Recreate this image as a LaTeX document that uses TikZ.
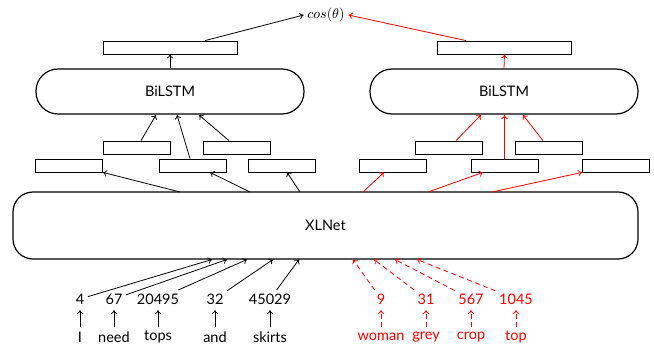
\documentclass[tikz,border=0pt]{standalone}
\usepackage{fontspec}
\setmainfont{Lato}
\usetikzlibrary{arrows.meta}
\begin{document}
\begin{tikzpicture}[x=1pt,y=-1pt,
  font=\fontsize{14.5}{17}\selectfont,
  vec/.style={draw, line width=0.8pt, minimum width=67pt, minimum height=13pt, inner sep=0pt},
  wide/.style={vec, minimum width=134pt},
  lstm/.style={draw, line width=1.2pt, rounded corners=22pt, minimum width=268pt, minimum height=45pt},
  arr/.style={-{To[length=4pt,width=6.5pt]}, line width=0.8pt},
  rarr/.style={arr, red},
  darr/.style={rarr, dash pattern=on 5pt off 3.5pt},
  num/.style={inner sep=3.5pt},
  rnum/.style={num, text=red}
]
\useasboundingbox (0,0) rectangle (654,350);

% top
\node[font=\normalsize, scale=1.4, inner sep=2.5pt] (cos) at (326,15) {$cos(\theta)$};
\node[wide] (tl) at (170,47.5) {};
\node[wide] (tr) at (504.5,47.5) {};

% BiLSTMs
\node[lstm] (bl) at (170,91.5) {BiLSTM};
\node[lstm] (br) at (504,91.5) {BiLSTM};

% row a
\node[vec] (la1) at (136.5,147.5) {};
\node[vec] (la2) at (236.5,147.5) {};
\node[vec] (ra1) at (448.5,147.5) {};
\node[vec] (ra2) at (549,147.5) {};
% row b
\node[vec] (lb1) at (69,165.5) {};
\node[vec] (lb2) at (192.5,165.5) {};
\node[vec] (lb3) at (281.5,165.5) {};
\node[vec] (rb1) at (393,165.5) {};
\node[vec] (rb2) at (504.5,165.5) {};
\node[vec] (rb3) at (616,165.5) {};

% XLNet
\node[draw, line width=1.2pt, rounded corners=20pt, minimum width=625pt, minimum height=67pt] (xl) at (325.5,225.5) {XLNet};

% coordinates on BiLSTM bottoms
\coordinate (bl1) at (156,115);
\coordinate (bl2) at (177,115);
\coordinate (bl3) at (199,115);
\coordinate (br1) at (481,115);
\coordinate (br2) at (504.5,115);
\coordinate (br3) at (523,115);
% coordinates on XLNet top
\coordinate (xt1) at (180,192);
\coordinate (xt2) at (250,192);
\coordinate (xt3) at (300,192);
\coordinate (xt4) at (363,192);
\coordinate (xt5) at (428,192);
\coordinate (xt6) at (492,192);
% coordinates on XLNet bottom
\coordinate (xb1) at (212,259.5);
\coordinate (xb2) at (227,259.5);
\coordinate (xb3) at (247,259.5);
\coordinate (xb4) at (273,259.5);
\coordinate (xb5) at (299,259.5);
\coordinate (xb6) at (353,259.5);
\coordinate (xb7) at (374,259.5);
\coordinate (xb8) at (395,259.5);
\coordinate (xb9) at (417,259.5);

% numbers
\node[num] (n1) at (80,299) {4};
\node[num] (n2) at (114,299) {67};
\node[num] (n3) at (158,299) {20495};
\node[num] (n4) at (215,299) {32};
\node[num] (n5) at (270,299) {45029};
\node[rnum] (n6) at (381,299) {9};
\node[rnum] (n7) at (426,299) {31};
\node[rnum] (n8) at (471,299) {567};
\node[rnum] (n9) at (516,299) {1045};
% words
\node[num] (w1) at (80,337) {I};
\node[num] (w2) at (114,337) {need};
\node[num] (w3) at (158,337) {tops};
\node[num] (w4) at (215,337) {and};
\node[num] (w5) at (270,337) {skirts};
\node[rnum] (w6) at (381,337) {woman};
\node[rnum] (w7) at (426,337) {grey};
\node[rnum] (w8) at (471,337) {crop};
\node[rnum] (w9) at (516,337) {top};

% word -> number
\foreach \i in {1,...,5} \draw[arr] (w\i.north |- 0,327) -- (n\i.south |- 0,310);
\foreach \i in {6,...,9} \draw[darr] (w\i.north |- 0,327) -- (n\i.south |- 0,310);

% number -> XLNet
\foreach \i in {1,...,5} \draw[arr] (n\i) -- (xb\i);
\foreach \i in {6,...,9} \draw[darr] (n\i) -- (xb\i);

% XLNet -> row b
\draw[arr] (xt1) -- (lb1.south east);
\draw[arr] (xt2) -- ([xshift=17.5pt]lb2.south);
\draw[arr] (xt3) -- ([xshift=5.5pt]lb3.south);
\draw[rarr] (xt4) -- ([xshift=-9pt]rb1.south);
\draw[rarr] (xt5) -- ([xshift=-21.5pt]rb2.south);
\draw[rarr] (xt6) -- (rb3.south west);

% rows -> BiLSTM
\draw[arr] ([xshift=4.5pt]la1.north) -- (bl1);
\draw[arr] ([xshift=-2.5pt]lb2.north) -- (bl2);
\draw[arr] ([xshift=-7.5pt]la2.north) -- (bl3);
\draw[rarr] ([xshift=7.5pt]ra1.north) -- (br1);
\draw[rarr] (rb2.north) -- (br2);
\draw[rarr] ([xshift=-6pt]ra2.north) -- (br3);

% BiLSTM -> top boxes
\draw[arr] (bl.north) -- (tl.south);
\draw[rarr] (br.north) -- (tr.south);

% top boxes -> cos
\draw[arr] ([xshift=35pt]tl.north) -- (cos.west);
\draw[rarr] ([xshift=-38.5pt]tr.north) -- (cos.east);
\end{tikzpicture}
\end{document}
